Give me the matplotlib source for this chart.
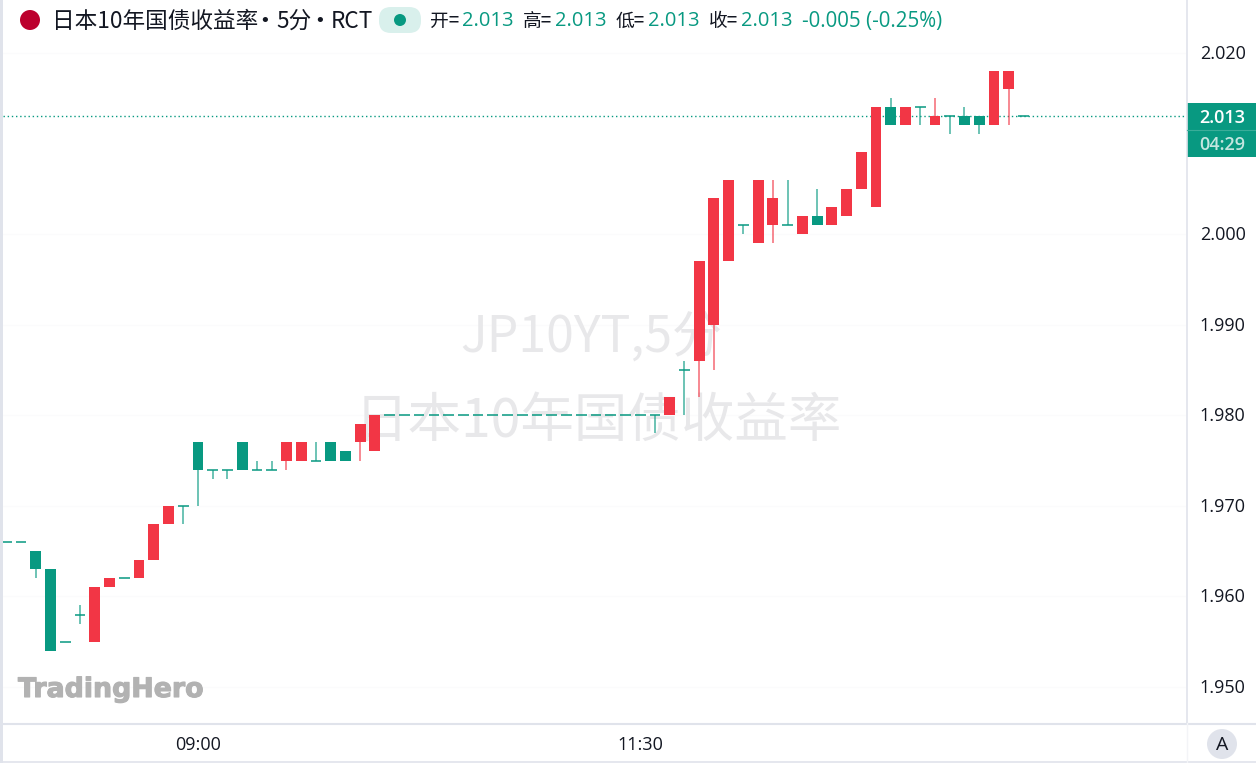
import matplotlib
matplotlib.use("Agg")
import matplotlib.pyplot as plt
import matplotlib.patheffects as pe
from matplotlib.patches import Ellipse, Rectangle, FancyBboxPatch
from matplotlib.lines import Line2D
from matplotlib.transforms import ScaledTranslation

plt.rcParams['font.family'] = ['Noto Sans CJK SC', 'DejaVu Sans']

W = 1256
H = 763
GREEN = '#089981'
RED = '#F23645'
BORDER = '#E0E3EB'

first_bar = -13
opens = [1.966, 1.966, 1.965, 1.963, 1.955, 1.958, 1.955, 1.961, 1.962, 1.962, 1.964, 1.968, 1.970,
         1.977, 1.974, 1.974, 1.977, 1.974, 1.974, 1.975, 1.975, 1.975, 1.977, 1.976, 1.977, 1.976,
         1.980, 1.980, 1.980, 1.980, 1.980, 1.980, 1.980, 1.980, 1.980,
         1.980, 1.980, 1.980, 1.980, 1.980, 1.980, 1.980, 1.980, 1.980,
         1.980, 1.980, 1.985, 1.986, 1.990, 1.997, 2.001, 1.999, 2.001, 2.001, 2.000, 2.002, 2.001,
         2.002, 2.005, 2.003, 2.014, 2.012, 2.014, 2.012, 2.013, 2.013, 2.013, 2.012, 2.016, 2.013]
highs = [1.966, 1.966, 1.965, 1.963, 1.955, 1.959, 1.961, 1.962, 1.962, 1.964, 1.968, 1.970, 1.970,
         1.977, 1.974, 1.974, 1.977, 1.975, 1.975, 1.977, 1.977, 1.977, 1.977, 1.976, 1.979, 1.980,
         1.980, 1.980, 1.980, 1.980, 1.980, 1.980, 1.980, 1.980, 1.980,
         1.980, 1.980, 1.980, 1.980, 1.980, 1.980, 1.980, 1.980, 1.980,
         1.980, 1.982, 1.986, 1.997, 2.004, 2.006, 2.001, 2.006, 2.006, 2.006, 2.002, 2.005, 2.003,
         2.005, 2.009, 2.014, 2.015, 2.014, 2.014, 2.015, 2.013, 2.014, 2.013, 2.018, 2.018, 2.013]
lows = [1.966, 1.966, 1.962, 1.954, 1.955, 1.957, 1.955, 1.961, 1.962, 1.962, 1.964, 1.968, 1.968,
        1.970, 1.973, 1.973, 1.974, 1.974, 1.974, 1.974, 1.975, 1.975, 1.975, 1.975, 1.975, 1.976,
        1.980, 1.980, 1.980, 1.980, 1.980, 1.980, 1.980, 1.980, 1.980,
        1.980, 1.980, 1.980, 1.980, 1.980, 1.980, 1.980, 1.980, 1.980,
        1.978, 1.980, 1.980, 1.982, 1.985, 1.997, 2.000, 1.999, 1.999, 2.001, 2.000, 2.001, 2.001,
        2.002, 2.005, 2.003, 2.012, 2.012, 2.012, 2.012, 2.011, 2.012, 2.011, 2.012, 2.012, 2.013]
closes = [1.966, 1.966, 1.963, 1.954, 1.955, 1.958, 1.961, 1.962, 1.962, 1.964, 1.968, 1.970, 1.970,
          1.974, 1.974, 1.974, 1.974, 1.974, 1.974, 1.977, 1.977, 1.975, 1.975, 1.975, 1.979, 1.980,
          1.980, 1.980, 1.980, 1.980, 1.980, 1.980, 1.980, 1.980, 1.980,
          1.980, 1.980, 1.980, 1.980, 1.980, 1.980, 1.980, 1.980, 1.980,
          1.980, 1.982, 1.985, 1.997, 2.004, 2.006, 2.001, 2.006, 2.004, 2.001, 2.002, 2.001, 2.003,
          2.005, 2.009, 2.014, 2.012, 2.014, 2.014, 2.013, 2.013, 2.012, 2.012, 2.018, 2.018, 2.013]

y_ticks = [1.950, 1.960, 1.970, 1.980, 1.990, 2.000, 2.020]
time_positions = [0, 30]
time_labels = ['09:00', '11:30']
last_price = 2.013
countdown = '04:29'

title_parts = ['日本10年国债收益率', '5分', 'RCT']
title_x = [52, 276, 331]
title_dots_x = [265, 320]
ohlc_names = ['开=', '高=', '低=', '收=']
ohlc_values = ['2.013', '2.013', '2.013', '2.013']
change_text = '-0.005 (-0.25%)'


def fx(px):
    return px / W


def fy(px):
    return 1 - px / H


def dot(x, y, d, col):
    fig.add_artist(Ellipse((fx(x), fy(y)), d / W, d / H, transform=fig.transFigure, color=col, lw=0))


fig = plt.figure(figsize=(W / 100, H / 100), dpi=100, facecolor='white')
ax = fig.add_axes([fx(3), fy(723), fx(1186 - 3), 1 - fy(723)])

# 14.74 px per bar, 9060 px per unit of yield
ax.set_xlim((3 - 198) / 14.74, (1186 - 198) / 14.74)
ax.set_ylim(2.0 + (234 - 723) / 9060, 2.0 + 234 / 9060)

for s in ax.spines.values():
    s.set_visible(False)
ax.grid(True, axis='y', color='#FBFBFC', lw=0.8)
ax.set_axisbelow(True)

ax.yaxis.tick_right()
ax.set_yticks(y_ticks)
ax.set_yticklabels(['%.3f' % v for v in y_ticks], fontsize=13, color='#131722', family='Open Sans')
ax.tick_params(axis='y', length=0, pad=10)
# labels sit one pixel too low otherwise
up_one = ScaledTranslation(0, 1 / 100, fig.dpi_scale_trans)
for lab in ax.get_yticklabels():
    lab.set_transform(lab.get_transform() + up_one)
ax.set_xticks(time_positions)
ax.set_xticklabels(time_labels, fontsize=13, color='#131722', family='Open Sans')
ax.tick_params(axis='x', length=0, pad=9)

# watermarks
ax.text(0.497, 1 - 338 / 723, 'JP10YT,5分', transform=ax.transAxes, fontsize=36, color='#E8E8EA',
        ha='center', va='center', zorder=1)
ax.text(0.503, 1 - 421 / 723, '日本10年国债收益率', transform=ax.transAxes, fontsize=38.5, color='#E8E8EA',
        ha='center', va='center', zorder=1)

for n in range(len(opens)):
    i = first_bar + n
    o, h, l, c = opens[n], highs[n], lows[n], closes[n]
    col = RED if c > o else GREEN
    ax.vlines(i, l, h, color=col, lw=1.1, alpha=0.75, zorder=3)
    if o == c:
        ax.hlines(o, i - 0.36, i + 0.36, color=col, lw=1.1, zorder=4)
    else:
        ax.bar(i, abs(c - o), bottom=min(o, c), width=0.74, color=col, lw=0, zorder=4)

ax.axhline(last_price, color=GREEN, lw=1, ls=(0, (1, 2)), zorder=2)

# frame lines
fig.add_artist(Rectangle((0, 0), fx(3), 1, transform=fig.transFigure, color=BORDER, lw=0))
fig.add_artist(Line2D([fx(1186.5)] * 2, [fy(723), 1], color=BORDER, lw=1.2))
fig.add_artist(Line2D([fx(3), 1], [fy(723.5)] * 2, color=BORDER, lw=1.5))
fig.add_artist(Line2D([fx(3), 1], [fy(762)] * 2, color=BORDER, lw=1.2))
fig.add_artist(Line2D([fx(1186.5)] * 2, [0, fy(723)], color='#F3F4F7', lw=1))

# price label on the axis
fig.add_artist(Rectangle((fx(1187), fy(157)), 1 - fx(1187), (157 - 103) / H, transform=fig.transFigure,
                         color=GREEN, lw=0))
fig.add_artist(Line2D([fx(1187), 1], [fy(130)] * 2, color='#3AAD99', lw=0.8))
fig.text(fx(1222), fy(118), '%.3f' % last_price, color='white', fontsize=13, family='Open Sans',
         fontweight='semibold', ha='center', va='center')
fig.text(fx(1222), fy(145), countdown, color='#C4E6E0', fontsize=13, family='Open Sans',
         fontweight='semibold', ha='center', va='center')

# header
dot(30, 20, 24, 'white')
dot(30, 20, 20, '#BC002D')
fig.add_artist(FancyBboxPatch((379, H - 33), 42, 26, boxstyle='round,pad=0,rounding_size=12', lw=0,
                              color='#D9F0EC', transform=None))
dot(400, 20, 12, GREEN)
for n in range(len(title_parts)):
    fig.text(fx(title_x[n]), fy(21), title_parts[n], fontsize=16.3, color='#131722', ha='left', va='center')
for x in title_dots_x:
    fig.text(fx(x), fy(21), '•', fontsize=13, color='#131722', ha='center', va='center', family='DejaVu Sans')

name_x = [430, 523, 616, 709]
value_x = [462, 555, 648, 741]
for n in range(4):
    fig.text(fx(name_x[n]), fy(21), ohlc_names[n], fontsize=13.5, color='#131722', ha='left', va='center')
    fig.text(fx(value_x[n]), fy(21), ohlc_values[n], fontsize=14.5, color=GREEN, ha='left', va='center',
             family='Open Sans')
fig.text(fx(802), fy(21), change_text, fontsize=14.8, color=GREEN, ha='left', va='center', family='Open Sans')

# logo and auto button
fig.text(fx(18), fy(697), 'TradingHero', fontsize=19.3, color='#B2B2B2', ha='left', va='baseline',
         family='DejaVu Sans', fontweight='bold',
         path_effects=[pe.withStroke(linewidth=0.8, foreground='#B2B2B2')])
dot(1222, 744, 30, BORDER)
fig.text(fx(1222), fy(745), 'A', fontsize=14, color='#131722', ha='center', va='center', family='Open Sans')

fig.savefig('out.png', dpi=100)
